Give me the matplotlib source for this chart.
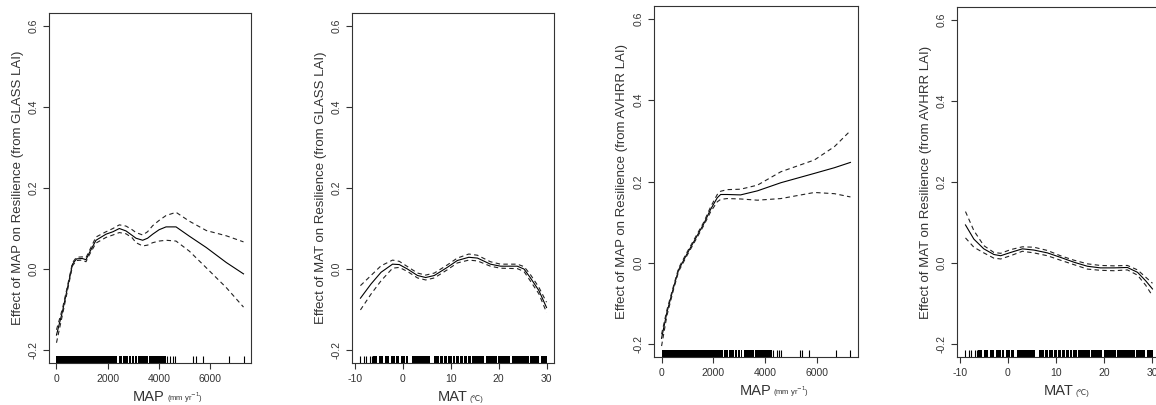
import matplotlib
matplotlib.use("Agg")
import matplotlib.pyplot as plt

plt.rcParams['font.family'] = ['Liberation Sans', 'DejaVu Sans']

# ---- GLASS LAI, MAP ----
glass_map_x = [0, 236, 400, 625, 780, 1000, 1150, 1280, 1540, 1930, 2200, 2450, 2710,
               2950, 3100, 3360, 3550, 3750, 4000, 4270, 4660, 5180, 5840, 6620, 7290]
glass_map_fit = [-0.163, -0.104, -0.055, 0.012, 0.025, 0.026, 0.023, 0.040, 0.071, 0.086,
                 0.092, 0.100, 0.094, 0.083, 0.076, 0.071, 0.076, 0.086, 0.097, 0.104,
                 0.104, 0.081, 0.053, 0.016, -0.012]
glass_map_up = [-0.150, -0.097, -0.050, 0.016, 0.029, 0.030, 0.028, 0.045, 0.079, 0.092,
                0.100, 0.109, 0.106, 0.097, 0.090, 0.084, 0.092, 0.107, 0.120, 0.132,
                0.140, 0.118, 0.095, 0.082, 0.067]
glass_map_lo = [-0.182, -0.112, -0.062, 0.008, 0.021, 0.022, 0.018, 0.035, 0.064, 0.078,
                0.084, 0.090, 0.087, 0.077, 0.065, 0.057, 0.059, 0.065, 0.069, 0.071,
                0.069, 0.044, 0.003, -0.046, -0.094]

# ---- GLASS LAI, MAT ----
glass_mat_x = [-8.8, -6.6, -4.5, -2.1, -0.7, 1.0, 3.1, 4.8, 6.6, 9.3, 11.4, 13.8, 15.6,
               18.3, 20.4, 23.9, 25.3, 26.6, 28.4, 30.0]
glass_mat_fit = [-0.072, -0.037, -0.008, 0.012, 0.011, 0.000, -0.016, -0.021, -0.016, 0.004,
                 0.021, 0.029, 0.027, 0.012, 0.007, 0.007, 0.000, -0.021, -0.053, -0.095]
glass_mat_up = [-0.041, -0.016, 0.008, 0.022, 0.019, 0.006, -0.010, -0.015, -0.010, 0.010,
                0.027, 0.037, 0.034, 0.018, 0.012, 0.012, 0.006, -0.013, -0.045, -0.082]
glass_mat_lo = [-0.101, -0.062, -0.029, 0.002, 0.004, -0.006, -0.022, -0.027, -0.022, -0.002,
                0.015, 0.022, 0.020, 0.007, 0.002, 0.001, -0.006, -0.029, -0.061, -0.107]

# ---- AVHRR LAI, MAP ----
avhrr_map_x = [0, 207, 466, 660, 983, 1307, 1630, 1890, 2150, 2280, 2535, 3050, 3700,
               4605, 5900, 6675, 7290]
avhrr_map_fit = [-0.186, -0.122, -0.060, -0.017, 0.022, 0.059, 0.096, 0.131, 0.160, 0.168,
                 0.168, 0.167, 0.177, 0.197, 0.220, 0.234, 0.247]
avhrr_map_up = [-0.176, -0.116, -0.056, -0.013, 0.026, 0.063, 0.100, 0.137, 0.168, 0.176,
                0.180, 0.181, 0.191, 0.224, 0.253, 0.286, 0.325]
avhrr_map_lo = [-0.205, -0.130, -0.065, -0.021, 0.018, 0.055, 0.092, 0.125, 0.150, 0.156,
                0.158, 0.157, 0.154, 0.158, 0.173, 0.170, 0.162]

# ---- AVHRR LAI, MAT ----
avhrr_mat_x = [-8.8, -7.06, -5.0, -2.9, -1.5, 0.55, 3.0, 5.4, 8.2, 10.9, 13.7, 16.5, 19.2,
               22.0, 24.8, 26.9, 28.6, 30.0]
avhrr_mat_fit = [0.094, 0.059, 0.035, 0.021, 0.018, 0.026, 0.035, 0.032, 0.025, 0.014, 0.002,
                 -0.008, -0.012, -0.012, -0.011, -0.023, -0.044, -0.064]
avhrr_mat_up = [0.127, 0.080, 0.043, 0.026, 0.024, 0.033, 0.040, 0.039, 0.031, 0.018, 0.007,
                -0.002, -0.006, -0.007, -0.006, -0.017, -0.035, -0.050]
avhrr_mat_lo = [0.062, 0.039, 0.025, 0.012, 0.010, 0.018, 0.029, 0.025, 0.018, 0.007, -0.004,
                -0.015, -0.018, -0.019, -0.017, -0.030, -0.055, -0.081]

# rug marks: dense stretches as (start, end) spans, isolated observations as ticks
map_rug_spans = [(0, 2370), (2420, 2560), (2610, 2800), (2840, 2900), (2950, 3010),
                 (3060, 3120), (3170, 3560), (3610, 4260)]
map_rug_ticks = [4310, 4440, 4530, 4620, 5330, 5420, 5700, 6730, 7290]
mat_rug_spans = [(-6.1, -5.3), (-4.9, -4.1), (-3.7, -2.8), (-2.5, -1.5), (-1.3, -0.8),
                 (-0.4, 0.5), (0.7, 1.2), (1.9, 5.7), (6.5, 7.5), (7.7, 8.4), (8.6, 9.3),
                 (9.5, 10.2), (10.4, 11.0), (11.2, 11.8), (12.0, 12.6), (12.8, 13.4),
                 (13.6, 14.3), (14.5, 17.0), (17.3, 19.6), (19.9, 22.4), (22.7, 26.3),
                 (26.6, 28.5), (28.8, 30.2)]
mat_rug_ticks = [-8.8, -8.1, -7.7, -6.9, -6.4]

map_ticks = [0, 2000, 4000, 6000]
mat_ticks = [-10, 0, 10, 20, 30]
y_ticks = [-0.2, 0.0, 0.2, 0.4, 0.6]

TXT = "#333333"
YLIM = (-0.232, 0.632)
RUG_TOP = -0.214

fig = plt.figure(figsize=(11.56, 4.05), dpi=100)
W, H = 1156.0, 405.0


def box(l, r, t, b):
    return [l / W, (H - b) / H, (r - l) / W, (b - t) / H]


panels = [
    dict(pos=box(49, 251, 13, 363), x=glass_map_x, fit=glass_map_fit, up=glass_map_up,
         lo=glass_map_lo, xlim=(-292, 7582), xt=map_ticks, spans=map_rug_spans,
         ticks=map_rug_ticks, ylab="Effect of MAP on Resilience (from GLASS LAI)",
         big="MAP", small="(mm yr$^{-1}$)"),
    dict(pos=box(352, 554, 13, 363), x=glass_mat_x, fit=glass_mat_fit, up=glass_mat_up,
         lo=glass_mat_lo, xlim=(-10.56, 31.56), xt=mat_ticks, spans=mat_rug_spans,
         ticks=mat_rug_ticks, ylab="Effect of MAT on Resilience (from GLASS LAI)",
         big="MAT", small="(\u2103)"),
    dict(pos=box(654, 858, 6, 357), x=avhrr_map_x, fit=avhrr_map_fit, up=avhrr_map_up,
         lo=avhrr_map_lo, xlim=(-292, 7582), xt=map_ticks, spans=map_rug_spans,
         ticks=map_rug_ticks, ylab="Effect of MAP on Resilience (from AVHRR LAI)",
         big="MAP", small="(mm yr$^{-1}$)"),
    dict(pos=box(957, 1160, 7, 357), x=avhrr_mat_x, fit=avhrr_mat_fit, up=avhrr_mat_up,
         lo=avhrr_mat_lo, xlim=(-10.56, 31.56), xt=mat_ticks, spans=mat_rug_spans,
         ticks=mat_rug_ticks, ylab="Effect of MAT on Resilience (from AVHRR LAI)",
         big="MAT", small="(\u2103)"),
]

for p in panels:
    ax = fig.add_axes(p["pos"])
    ax.plot(p["x"], p["fit"], color="black", lw=0.8)
    ax.plot(p["x"], p["up"], color="#222222", lw=0.8, ls=(0, (4, 3)))
    ax.plot(p["x"], p["lo"], color="#222222", lw=0.8, ls=(0, (4, 3)))

    # rug along the bottom edge
    ax.broken_barh([(s, e - s) for s, e in p["spans"]], (YLIM[0], RUG_TOP - YLIM[0]),
                   facecolor="black", edgecolor="none", antialiased=False)
    ax.vlines(p["ticks"], YLIM[0], RUG_TOP, color="black", lw=0.8)

    ax.set_xlim(*p["xlim"])
    ax.set_ylim(*YLIM)
    ax.set_xticks(p["xt"])
    ax.set_xticklabels([str(v) for v in p["xt"]])
    ax.set_yticks(y_ticks)
    ax.set_yticklabels(["%.1f" % v for v in y_ticks], rotation=90, va="center")

    for sp in ax.spines.values():
        sp.set_linewidth(0.8)
        sp.set_color("#333333")
    ax.tick_params(length=4.3, width=0.8, color="#333333", labelsize=7.5,
                   labelcolor=TXT, pad=3.3)

    ax.text(-0.155, 0.5, p["ylab"], rotation=90, ha="center", va="center",
            fontsize=9.5, color=TXT, transform=ax.transAxes)
    ax.text(0.574, -0.108, p["big"], ha="right", va="baseline", fontsize=10.5,
            color=TXT, transform=ax.transAxes)
    ax.text(0.584, -0.108, p["small"], ha="left", va="baseline", fontsize=5.5,
            color=TXT, transform=ax.transAxes)

fig.savefig("out.png", dpi=100)
